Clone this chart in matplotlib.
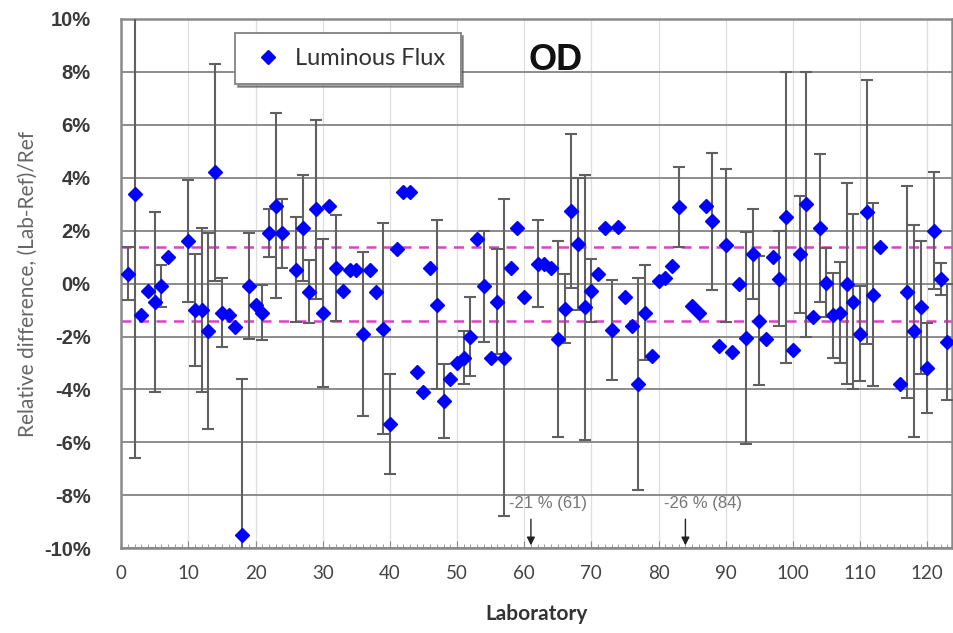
import matplotlib
matplotlib.use('Agg')
import matplotlib.pyplot as plt
from matplotlib.ticker import FuncFormatter, MultipleLocator

plt.rcParams.update({'font.family': ['Lato', 'DejaVu Sans']})

# lab number, relative difference (%), half-width of error bar (%)
labs = [1, 2, 3, 4, 5, 6, 7, 10, 11, 12, 13, 14, 15, 16, 17, 18, 19, 20, 21, 22,
        23, 24, 26, 27, 28, 29, 30, 31, 32, 33, 34, 35, 36, 37, 38, 39, 40, 41, 42, 43,
        44, 45, 46, 47, 48, 49, 50, 51, 52, 53, 54, 55, 56, 57, 58, 59, 60, 62, 63, 64,
        65, 66, 67, 68, 69, 70, 71, 72, 73, 74, 75, 76, 77, 78, 79, 80, 81, 82, 83, 85,
        86, 87, 88, 89, 90, 91, 92, 93, 94, 95, 96, 97, 98, 99, 100, 101, 102, 103, 104, 105,
        106, 107, 108, 109, 110, 111, 112, 113, 116, 117, 118, 119, 120, 121, 122, 123]
rel = [0.37, 3.4, -1.2, -0.27, -0.7, -0.08, 1.0, 1.6, -1.0, -1.0, -1.8, 4.2, -1.1, -1.2, -1.65, -9.5, -0.1, -0.8, -1.1, 1.9,
       2.95, 1.9, 0.53, 2.1, -0.3, 2.8, -1.1, 2.95, 0.6, -0.27, 0.5, 0.5, -1.9, 0.5, -0.3, -1.7, -5.3, 1.3, 3.45, 3.45,
       -3.35, -4.1, 0.6, -0.8, -4.45, -3.6, -3.0, -2.8, -2.0, 1.7, -0.1, -2.8, -0.68, -2.8, 0.6, 2.1, -0.5, 0.75, 0.75, 0.6,
       -2.1, -0.95, 2.75, 1.5, -0.9, -0.27, 0.38, 2.1, -1.75, 2.15, -0.5, -1.6, -3.8, -1.1, -2.75, 0.08, 0.2, 0.68, 2.9, -0.85,
       -1.1, 2.95, 2.35, -2.35, 1.44, -2.57, 0.0, -2.05, 1.1, -1.4, -2.1, 1.02, 0.18, 2.5, -2.5, 1.1, 3.0, -1.25, 2.1, 0.03,
       -1.2, -1.1, 0.0, -0.68, -1.9, 2.7, -0.42, 1.4, -3.8, -0.33, -1.8, -0.9, -3.2, 2.0, 0.18, -2.2]
err = [1.0, 10.0, 0, 0, 3.4, 0.8, 0, 2.3, 2.1, 3.1, 3.7, 4.1, 1.3, 0, 0, 5.9, 2.0, 0, 1.05, 0.9,
       3.5, 1.3, 2.0, 2.0, 1.2, 3.4, 2.8, 0, 2.0, 0, 0, 0, 3.1, 0, 0, 4.0, 1.9, 0, 0, 0,
       0, 0, 0, 3.2, 1.4, 0, 0, 1.0, 1.5, 0, 2.1, 0, 2.0, 6.0, 0, 0, 0, 1.65, 0, 0,
       3.7, 1.3, 2.9, 2.5, 5.0, 1.2, 0, 0, 1.9, 0, 0, 0, 4.0, 1.8, 0, 0, 0, 0, 1.5, 0,
       0, 0, 2.6, 0, 2.9, 0, 0, 4.0, 1.7, 2.45, 0, 0, 1.8, 5.5, 0, 2.2, 5.0, 0, 2.8, 1.3,
       1.6, 1.9, 3.8, 3.3, 1.8, 5.0, 3.45, 0, 0, 4.0, 4.0, 2.5, 1.7, 2.2, 0.6, 2.2]
limit = 1.4                      # +/- band (%)
off_labs = [61, 84]              # results outside the plotted range
off_vals = [-21, -26]

fig = plt.figure(figsize=(9.54, 6.33), dpi=100)
ax = fig.add_axes([0.127, 0.134, 0.871, 0.836])
ax.set_xlim(0, 123.7)
ax.set_ylim(-10, 10)

lab_e = [l for l, e in zip(labs, err) if e > 0]
rel_e = [r for r, e in zip(rel, err) if e > 0]
err_e = [e for e in err if e > 0]
ax.errorbar(lab_e, rel_e, yerr=err_e, fmt='none', ecolor='#606060', elinewidth=1.5,
            capsize=4, capthick=1.5, zorder=3)
ax.plot(labs, rel, 'D', color='#0000ff', markersize=7.5, zorder=4, label='Luminous Flux')

for v in (limit, -limit):
    ax.axhline(v, color='#e040c8', ls=(0, (4, 3)), lw=1.8, zorder=2)

for l, v in zip(off_labs, off_vals):
    ax.text(l - 3.2, -8.3, f'{v} % ({l})', ha='left', va='center', fontsize=12,
            color='#777777', family='Liberation Sans')
    ax.annotate('', xy=(l, -10), xytext=(l, -8.8),
                arrowprops=dict(arrowstyle='-|>', color='#222222', lw=1.0, mutation_scale=12))

ax.yaxis.set_major_locator(MultipleLocator(2))
ax.xaxis.set_major_locator(MultipleLocator(10))
ax.xaxis.set_minor_locator(MultipleLocator(1))
ax.yaxis.set_major_formatter(FuncFormatter(lambda v, p: f'{v:.0f}%'))
ax.grid(axis='y', color='#8c8c8c', lw=1.4, zorder=1)
ax.grid(axis='x', color='#dedede', lw=0.9, zorder=1)
ax.set_axisbelow(True)
for s in ax.spines.values():
    s.set_color('#8a8a8a')
    s.set_linewidth(1.8)
ax.tick_params(axis='y', length=0, pad=22, labelsize=14.5, labelcolor='#3a3a3a')
for t in ax.get_yticklabels():
    t.set_family('Liberation Sans')
    t.set_fontweight('bold')
ax.tick_params(axis='x', which='major', direction='in', length=5, color='#8a8a8a',
               pad=12, labelsize=13.5, labelcolor='#444444')
ax.tick_params(axis='x', which='minor', direction='in', length=3, color='#8a8a8a')

ax.set_xlabel('Laboratory', fontsize=15, fontweight='bold', color='#333333', labelpad=16)
ax.set_ylabel('Relative difference, (Lab-Ref)/Ref', fontsize=15, color='#666666', labelpad=4)

leg = ax.legend(loc='upper left', bbox_to_anchor=(0.137, 0.974), fontsize=17,
                frameon=True, fancybox=False, shadow=True, handletextpad=0.4,
                borderpad=0.65, borderaxespad=0, handlelength=1.5, markerscale=0.9)
leg.get_frame().set_edgecolor('#8a8a8a')
leg.get_frame().set_linewidth(1.4)
for t in leg.get_texts():
    t.set_color('#333333')

ax.text(0.523, 0.922, 'OD', transform=ax.transAxes, ha='center', va='center',
        fontsize=26, fontweight='bold', color='#111111', family='Liberation Sans')

fig.savefig('out.png', dpi=100)
